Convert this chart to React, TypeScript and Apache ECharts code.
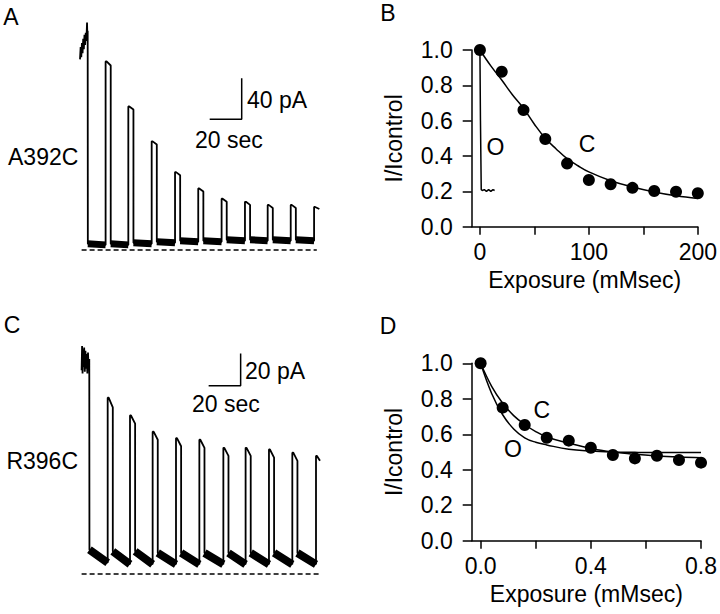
import React, { useEffect, useRef } from "react";
import * as echarts from "echarts";

const FONT = '"Liberation Sans", Arial, Helvetica, sans-serif';
const FS = 23;
const PULSE_W = 3.2;

// ---- Panel A (A392C current trace; time in s, current in pA) ----
const aPreT = [0, 0.4, 0.8, 1.2, 1.6, 2.0, 2.4, 2.8, 3.2, 3.6, 4.0, 4.4, 4.6, 4.8];
const aPreI = [186, 198, 188, 202, 192, 206, 196, 210, 200, 212, 204, 222, 208, 214];
const aDropT = 4.9;
const aPulseStart = [16.0, 30.2, 44.8, 59.4, 73.9, 88.5, 103.1, 117.3, 131.7, 146.3];
const aPulsePeak = [184, 140, 106, 76, 60, 50, 47, 44, 44, 42];
const aPulseEnd = [180, 137, 103, 73, 57, 47, 44, 41, 41, 40];
const aBaseHigh = [6, 6, 7, 8, 9, 9, 10, 10, 10, 10];
const aBaseLow = [5, 5, 6, 7, 8, 8, 9, 9, 9, 9];
const aTraceEnd = 149.6;
const aDash = [1, 148];
const aScaleBar = { t0: 81.06, i0: 127.5, dt: 20, di: 40 };

// ---- Panel C (R396C current trace) ----
const cPreT = [1.0, 1.3, 1.6, 1.9, 2.2, 2.6, 3.0, 3.4, 3.8, 4.2, 4.6, 5.0, 5.4, 5.8];
const cPreI = [126, 141, 124, 139, 128, 140, 125, 138, 127, 136, 124, 137, 126, 133];
const cDropT = 5.9;
const cPulseStart = [17.3, 31.25, 45.4, 60.0, 74.6, 89.6, 103.5, 118.1, 132.7, 147.5];
const cPulsePeak = [109, 98, 88, 84, 83, 78, 78, 77, 75, 73];
const cPulseEnd = [103, 93, 83, 79, 78, 73, 73, 72, 70, 70];
const cBaseHigh = [15, 14, 14, 13, 13, 13, 13, 13, 13, 13];
const cBaseLow = [7, 6, 6, 6, 6, 6, 6, 6, 6, 6];
const cTraceEnd = 150;
const cDash = [1, 149.5];
const cScaleBar = { t0: 80.4, i0: 116.4, dt: 20, di: 20 };

// ---- Panel B ----
const bPtsX = [0, 20, 40, 60, 80, 100, 120, 140, 160, 180, 200];
const bPtsY = [1.0, 0.877, 0.66, 0.496, 0.358, 0.264, 0.24, 0.22, 0.202, 0.198, 0.189];
const bFitCX = [0, 10, 20, 30, 40, 50, 60, 70, 80, 90, 100, 120, 140, 160, 180, 200];
const bFitCY = [1.0, 0.91, 0.83, 0.745, 0.67, 0.58, 0.5, 0.44, 0.385, 0.345, 0.31, 0.26, 0.225, 0.197, 0.175, 0.16];
const bFitOX = [0, 0.5, 1.2, 2.2, 4, 6, 8, 10, 12, 13.5];
const bFitOY = [1.0, 0.6, 0.21, 0.205, 0.21, 0.2, 0.21, 0.2, 0.21, 0.205];
const bXTicks = [0, 50, 100, 150, 200];
const bXLabels = [0, 100, 200];

// ---- Panel D ----
const dPtsX = [0, 0.08, 0.16, 0.24, 0.32, 0.4, 0.48, 0.56, 0.64, 0.72, 0.8];
const dPtsY = [1.0, 0.75, 0.652, 0.58, 0.564, 0.524, 0.483, 0.464, 0.479, 0.455, 0.44];
const dFitCX = [0, 0.04, 0.08, 0.12, 0.16, 0.2, 0.24, 0.32, 0.4, 0.48, 0.56, 0.64, 0.72, 0.8];
const dFitCY = [1.0, 0.87, 0.775, 0.705, 0.655, 0.615, 0.585, 0.55, 0.52, 0.5, 0.487, 0.478, 0.472, 0.468];
const dFitOX = [0, 0.04, 0.08, 0.12, 0.16, 0.2, 0.24, 0.32, 0.4, 0.48, 0.56, 0.64, 0.8];
const dFitOY = [1.0, 0.83, 0.71, 0.63, 0.58, 0.555, 0.54, 0.515, 0.505, 0.5, 0.498, 0.497, 0.497];
const dXTicks = [0, 0.2, 0.4, 0.6, 0.8];
const dXLabels = [0, 0.4, 0.8];

function zip(xs: number[], ys: number[]) {
  return xs.map((x, i) => [x, ys[i]]);
}

function buildTrace(
  preT: number[], preI: number[], dropT: number, starts: number[], peaks: number[],
  ends: number[], baseHi: number[], baseLo: number[], endT: number
) {
  const trace: any[] = [];
  const base: any[] = [];
  preT.forEach((t, k) => trace.push([t, preI[k]]));
  trace.push([dropT, preI[preI.length - 1]]);
  trace.push([dropT, baseHi[0]]);
  let segStart = dropT;
  for (let i = 0; i < starts.length; i++) {
    const s = starts[i];
    base.push([segStart, baseHi[i]], [s, baseLo[i]], [s, null]);
    trace.push([s, baseLo[i]], [s, peaks[i]]);
    const last = i === starts.length - 1;
    const e = last ? endT : s + PULSE_W;
    trace.push([s + 0.6, peaks[i]], [e, ends[i]]);
    if (!last) trace.push([e, baseHi[i + 1]]);
    segStart = e;
  }
  return { trace, base };
}

function scaleBarData(sb: { t0: number; i0: number; dt: number; di: number }) {
  return [[sb.t0, sb.i0], [sb.t0 + sb.dt, sb.i0], [sb.t0 + sb.dt, sb.i0 + sb.di]];
}

const axisColor = "#000";

function plotXAxis(gridIndex: number, min: number, max: number, ticks: number[], labels: number[], fmt: (v: number) => string) {
  return {
    gridIndex, type: "value", min, max,
    axisLine: { show: true, onZero: false, lineStyle: { color: axisColor, width: 1.5 } },
    axisTick: { show: true, inside: false, length: 8, customValues: ticks, lineStyle: { color: axisColor, width: 1.5 } },
    axisLabel: { show: true, customValues: labels, formatter: fmt, color: "#000", fontSize: FS, fontFamily: FONT, margin: 14 },
    splitLine: { show: false },
    name: "Exposure (mMsec)", nameLocation: "middle", nameGap: 42,
    nameTextStyle: { color: "#000", fontSize: FS, fontFamily: FONT },
  };
}

function plotYAxis(gridIndex: number) {
  return {
    gridIndex, type: "value", min: 0, max: 1, interval: 0.2,
    axisLine: { show: true, onZero: false, lineStyle: { color: axisColor, width: 1.5 } },
    axisTick: { show: true, inside: false, length: 9, lineStyle: { color: axisColor, width: 1.5 } },
    axisLabel: { show: true, formatter: (v: number) => v.toFixed(1), color: "#000", fontSize: FS, fontFamily: FONT, margin: 19 },
    splitLine: { show: false },
    name: "I/Icontrol", nameLocation: "middle", nameGap: 66, nameRotate: 90,
    nameTextStyle: { color: "#000", fontSize: FS, fontFamily: FONT },
  };
}

function txt(text: string, x: number, y: number, align: string = "center") {
  return {
    type: "text", x, y, silent: true,
    style: {
      text, fill: "#000", font: `${FS}px ${FONT}`,
      align, verticalAlign: "middle", textAlign: align, textVerticalAlign: "middle",
    },
  };
}

export default function App() {
  const ref = useRef<HTMLDivElement>(null);
  useEffect(() => {
    if (!ref.current) return;
    const chart = echarts.init(ref.current, undefined, { renderer: "svg" });
    const A = buildTrace(aPreT, aPreI, aDropT, aPulseStart, aPulsePeak, aPulseEnd, aBaseHigh, aBaseLow, aTraceEnd);
    const C = buildTrace(cPreT, cPreI, cDropT, cPulseStart, cPulsePeak, cPulseEnd, cBaseHigh, cBaseLow, cTraceEnd);
    const lineSeries = (xi: number, data: any[], w: number, extra: any = {}) => ({
      type: "line", xAxisIndex: xi, yAxisIndex: xi, data, symbol: "none", silent: true,
      lineStyle: { color: "#000", width: w, opacity: 1, ...(extra.lineStyle || {}) },
      clip: false, connectNulls: false, smooth: extra.smooth || false,
    });
    const dots = (xi: number, data: any[]) => ({
      type: "scatter", xAxisIndex: xi, yAxisIndex: xi, data,
      symbol: "circle", symbolSize: 12, itemStyle: { color: "#000", opacity: 1 }, clip: false, silent: true,
    });
    const option: any = {
      animation: false,
      backgroundColor: "#fff",
      textStyle: { fontFamily: FONT },
      grid: [
        { left: 80, top: 14.25, width: 243.2, height: 235.75 },
        { left: 471.7, top: 50, width: 228.3, height: 176.7 },
        { left: 80, top: 339.5, width: 243.2, height: 234.5 },
        { left: 471.7, top: 363.3, width: 231, height: 177.4 },
      ],
      xAxis: [
        { gridIndex: 0, type: "value", min: 0, max: 152, show: false },
        plotXAxis(1, -7.545, 200, bXTicks, bXLabels, (v: number) => String(v)),
        { gridIndex: 2, type: "value", min: 0, max: 152, show: false },
        plotXAxis(3, -0.0324, 0.8, dXTicks, dXLabels, (v: number) => v.toFixed(1)),
      ],
      yAxis: [
        { gridIndex: 0, type: "value", min: 0, max: 230, show: false },
        plotYAxis(1),
        { gridIndex: 2, type: "value", min: 0, max: 145, show: false },
        plotYAxis(3),
      ],
      series: [
        // Panel A
        lineSeries(0, A.trace, 1.8),
        lineSeries(0, A.base, 7),
        lineSeries(0, aDash.map((t) => [t, 0]), 1.3, { lineStyle: { type: [5, 3] } }),
        lineSeries(0, scaleBarData(aScaleBar), 1.5),
        // Panel B
        lineSeries(1, zip(bFitCX, bFitCY), 1.5, { smooth: 0.4 }),
        lineSeries(1, zip(bFitOX, bFitOY), 1.5),
        dots(1, zip(bPtsX, bPtsY)),
        // Panel C
        lineSeries(2, C.trace, 1.8),
        lineSeries(2, C.base, 8),
        lineSeries(2, cDash.map((t) => [t, 0]), 1.3, { lineStyle: { type: [5, 3] } }),
        lineSeries(2, scaleBarData(cScaleBar), 1.5),
        // Panel D
        lineSeries(3, zip(dFitCX, dFitCY), 1.5, { smooth: 0.4 }),
        lineSeries(3, zip(dFitOX, dFitOY), 1.5, { smooth: 0.4 }),
        dots(3, zip(dPtsX, dPtsY)),
      ],
      graphic: [
        txt("A", 11, 16.7),
        txt("B", 388, 13),
        txt("C", 12, 325),
        txt("D", 388, 326),
        txt("A392C", 8, 156.7, "left"),
        txt("R396C", 78, 461, "right"),
        txt("40 pA", 247, 100, "left"),
        txt("20 sec", 195, 140, "left"),
        txt("20 pA", 245, 370.7, "left"),
        txt("20 sec", 192, 404, "left"),
        txt("O", 495.5, 146.7),
        txt("C", 587, 144),
        txt("C", 541.7, 410),
        txt("O", 513, 449),
      ],
    };
    chart.setOption(option);
    return () => chart.dispose();
  }, []);
  return (
    <div
      ref={ref}
      style={{ position: "absolute", left: 0, top: 0, width: 720, height: 614, background: "#fff" }}
    />
  );
}
